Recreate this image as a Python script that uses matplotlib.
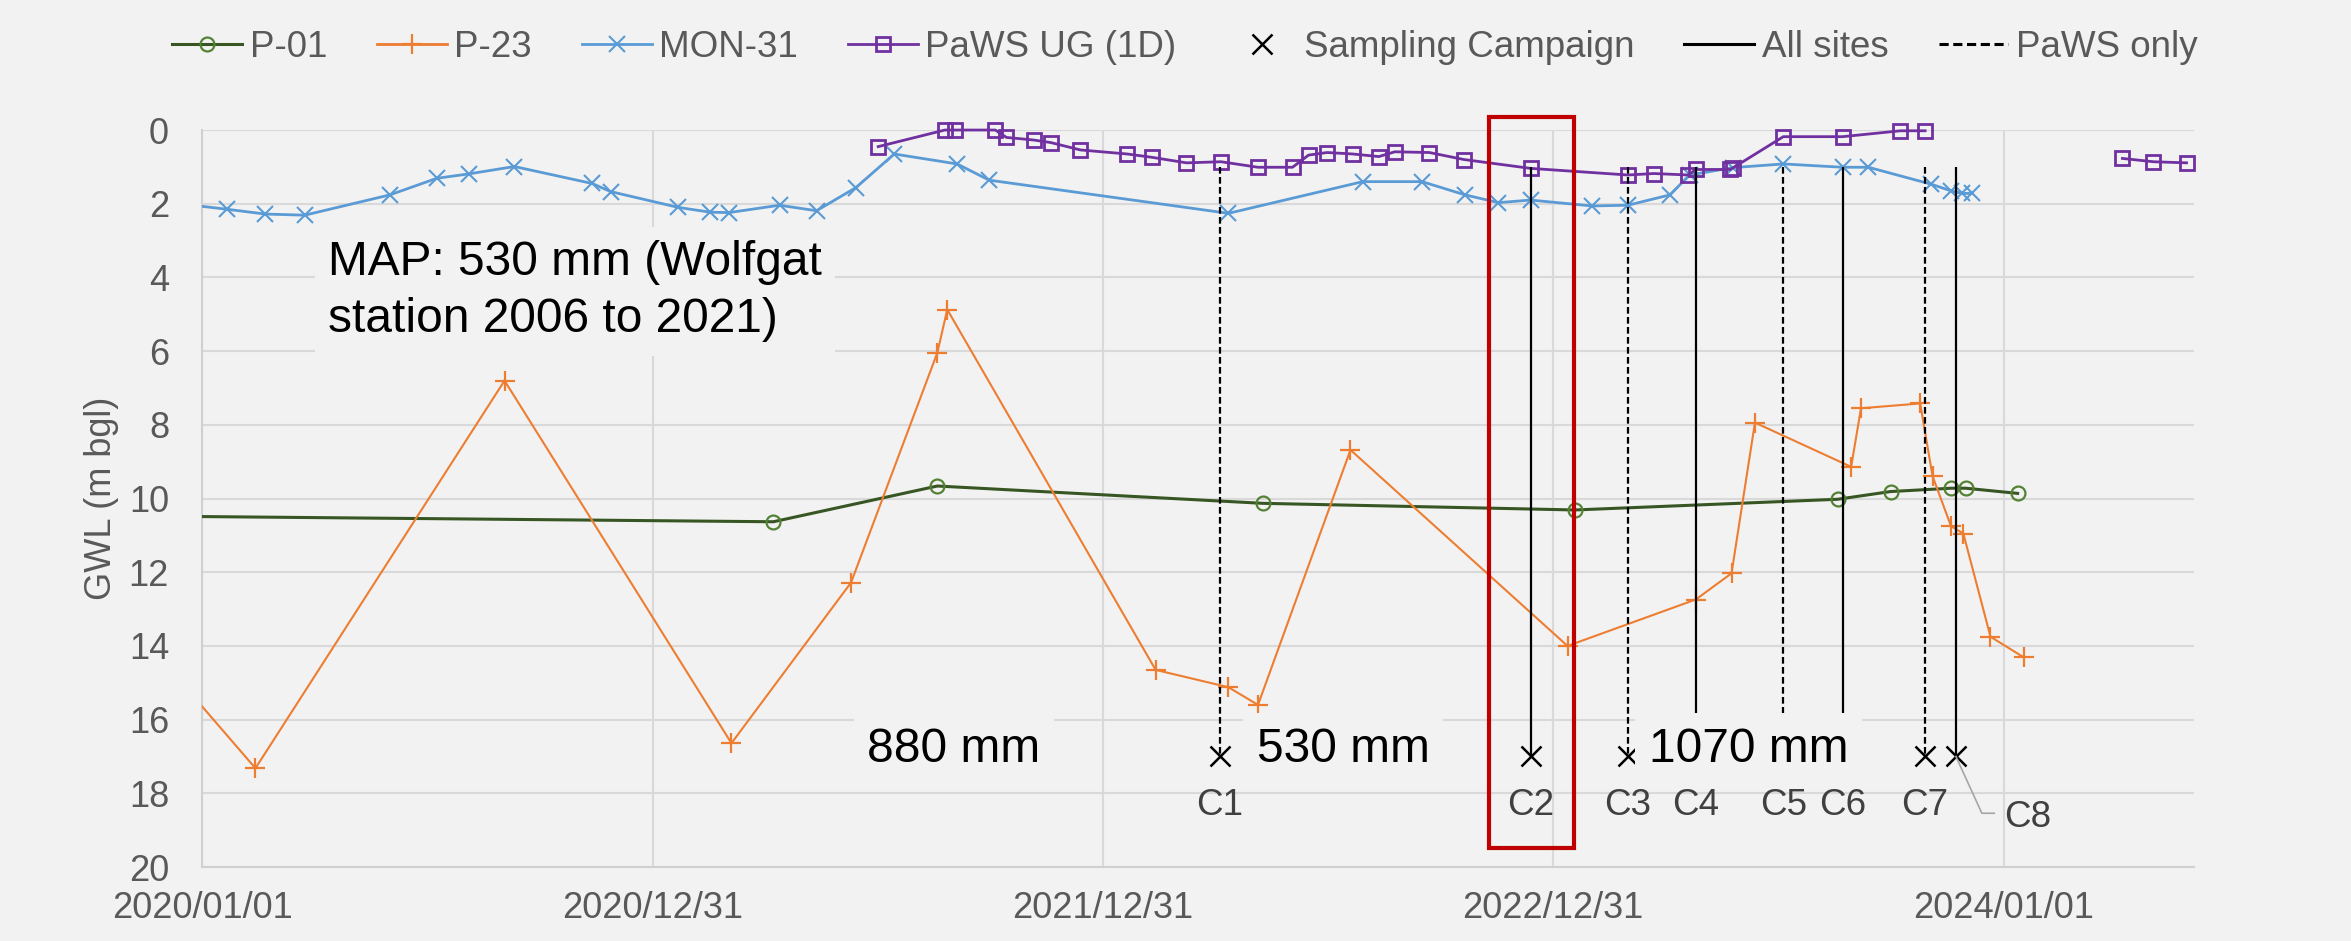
import numpy as np
import matplotlib
matplotlib.use('Agg')
import matplotlib.pyplot as plt
import matplotlib.dates as mdates
from matplotlib.lines import Line2D
from matplotlib.patches import Rectangle

plt.rcParams['font.family'] = ['Liberation Sans', 'DejaVu Sans']

# ---- data ----
p01_dates = np.array(['2019-12-01', '2021-04-08', '2021-08-19', '2022-05-10', '2023-01-18',
                      '2023-08-19', '2023-10-01', '2023-11-19', '2023-12-01', '2024-01-12'],
                     dtype='datetime64[D]')
p01_gwl = [10.48, 10.63, 9.66, 10.13, 10.31, 10.02, 9.81, 9.72, 9.72, 9.86]

p23_dates = np.array(['2019-12-01', '2020-02-13', '2020-09-02', '2021-03-05', '2021-06-10',
                      '2021-08-19', '2021-08-27', '2022-02-12', '2022-04-12', '2022-05-06',
                      '2022-07-20', '2023-01-12', '2023-04-26', '2023-05-25', '2023-06-13',
                      '2023-08-30', '2023-09-07', '2023-10-25', '2023-11-04', '2023-11-19',
                      '2023-11-29', '2023-12-21', '2024-01-17'], dtype='datetime64[D]')
p23_gwl = [14.45, 17.32, 6.80, 16.64, 12.28, 6.04, 4.87, 14.65, 15.12, 15.60,
           8.68, 14.00, 12.74, 12.03, 7.94, 9.14, 7.55, 7.42, 9.39, 10.75,
           10.95, 13.75, 14.31]

mon31_dates = np.array(['2019-12-01', '2020-01-21', '2020-02-21', '2020-03-24', '2020-06-01',
                        '2020-07-09', '2020-08-04', '2020-09-10', '2020-11-12', '2020-11-27',
                        '2021-01-21', '2021-02-16', '2021-03-03', '2021-04-13', '2021-05-13',
                        '2021-06-14', '2021-07-15', '2021-09-04', '2021-09-30', '2022-04-12',
                        '2022-07-30', '2022-09-16', '2022-10-21', '2022-11-17', '2022-12-13',
                        '2023-02-01', '2023-03-02', '2023-04-05', '2023-04-21', '2023-05-26',
                        '2023-07-06', '2023-08-23', '2023-09-13', '2023-11-03', '2023-11-19',
                        '2023-11-28', '2023-12-06'], dtype='datetime64[D]')
mon31_gwl = [1.95, 2.15, 2.28, 2.31, 1.76, 1.31, 1.19, 0.99, 1.45, 1.67,
             2.10, 2.23, 2.24, 2.04, 2.19, 1.56, 0.65, 0.92, 1.36, 2.26,
             1.40, 1.40, 1.76, 1.97, 1.90, 2.06, 2.04, 1.76, 1.22, 1.02,
             0.92, 1.01, 1.01, 1.47, 1.65, 1.72, 1.72]

paws_dates = np.array(['2021-07-02', '2021-08-25', '2021-09-02', '2021-10-05', '2021-10-14',
                       '2021-11-05', '2021-11-19', '2021-12-13', '2022-01-20', '2022-02-09',
                       '2022-03-09', '2022-04-06', '2022-05-06', '2022-06-03', '2022-06-16',
                       '2022-07-01', '2022-07-22', '2022-08-12', '2022-08-25', '2022-09-22',
                       '2022-10-20', '2022-12-13', '2023-03-02', '2023-03-23', '2023-04-20',
                       '2023-04-26', '2023-05-24', '2023-05-26', '2023-07-06', '2023-08-23',
                       '2023-10-09', '2023-10-29', '2024-01-01', '2024-04-06', '2024-05-01',
                       '2024-05-28'], dtype='datetime64[D]')
paws_gwl = [0.45, 0.00, 0.00, 0.00, 0.20, 0.27, 0.34, 0.54, 0.65, 0.74,
            0.89, 0.86, 1.01, 1.01, 0.68, 0.61, 0.65, 0.72, 0.59, 0.61,
            0.80, 1.04, 1.22, 1.18, 1.22, 1.07, 1.07, 1.03, 0.18, 0.18,
            0.02, 0.02, np.nan, 0.77, 0.86, 0.89]

camp_labels = ['C1', 'C2', 'C3', 'C4', 'C5', 'C6', 'C7', 'C8']
camp_dates = np.array(['2022-04-05', '2022-12-13', '2023-03-02', '2023-04-26',
                       '2023-07-06', '2023-08-23', '2023-10-29', '2023-11-23'],
                      dtype='datetime64[D]')
camp_all_sites = [False, True, False, True, False, True, False, True]
camp_top = 1.0
camp_bottom = 17.0

tick_dates = np.array(['2020-01-01', '2020-12-31', '2021-12-31', '2022-12-31', '2024-01-01'],
                      dtype='datetime64[D]')
tick_labels = ['2020/01/01', '2020/12/31', '2021/12/31', '2022/12/31', '2024/01/01']

# ---- figure ----
bg = '#f2f2f2'
grey_txt = '#595959'
c_p01_line, c_p01_mk = '#375623', '#548235'
c_p23 = '#ed7d31'
c_mon = '#5b9bd5'
c_paws = '#7030a0'
dash = (0, (3, 1.5))

fig = plt.figure(figsize=(23.51, 9.41), dpi=100, facecolor=bg)
ax = fig.add_axes([0.0861, 0.0786, 0.8471, 0.7832])
ax.set_facecolor(bg)

ax.plot(p01_dates, p01_gwl, color=c_p01_line, lw=2.2, marker='o', ms=10, mfc='none',
        mec=c_p01_mk, mew=1.6, zorder=3)
ax.plot(p23_dates, p23_gwl, color=c_p23, lw=1.5, marker='+', ms=14, mew=1.6, zorder=3)
ax.plot(mon31_dates, mon31_gwl, color=c_mon, lw=2, marker='x', ms=11, mew=1.5, zorder=3)
ax.plot(paws_dates, paws_gwl, color=c_paws, lw=2, marker='s', ms=10, mfc='none',
        mew=2, zorder=3, clip_on=False)

# sampling campaigns
for d, allsite in zip(camp_dates, camp_all_sites):
    ax.vlines(d, camp_top, camp_bottom, color='black', lw=1.6,
              linestyles='solid' if allsite else dash, zorder=4)
ax.plot(camp_dates, [camp_bottom] * len(camp_dates), ls='none', marker='x', ms=15,
        mew=1.8, color='black', zorder=4)
for lab, d in zip(camp_labels[:-1], camp_dates[:-1]):
    ax.text(d, 18.59, lab, ha='center', va='baseline', fontsize=26.5, color='#404040')
# C8 label with leader line
ax.plot([camp_dates[-1], np.datetime64('2023-12-14'), np.datetime64('2023-12-24')],
        [camp_bottom, 18.54, 18.54], color='#a6a6a6', lw=1.2, zorder=4)
ax.text(np.datetime64('2024-01-01'), 18.9, camp_labels[-1], ha='left', va='baseline',
        fontsize=26.5, color='#404040')

# rainfall annotations
box = dict(boxstyle='square,pad=0.28', fc=bg, ec='none')
ax.text(np.datetime64('2020-04-12'), 2.99, 'MAP: 530 mm (Wolfgat\nstation 2006 to 2021)',
        ha='left', va='top', fontsize=34.5, color='black', bbox=box, zorder=6,
        linespacing=1.35)
for d, s in [('2021-06-23', '880 mm'), ('2022-05-05', '530 mm'), ('2023-03-19', '1070 mm')]:
    ax.text(np.datetime64(d), 17.14, s, ha='left', va='baseline', fontsize=34.5,
            color='black', bbox=box, zorder=6)

# highlight box around C2
x0 = mdates.date2num(np.datetime64('2022-11-09'))
x1 = mdates.date2num(np.datetime64('2023-01-17'))
ax.add_patch(Rectangle((x0, -0.36), x1 - x0, 19.83, fill=False, ec='#c00000', lw=3,
                       zorder=7, clip_on=False))

# axes styling
ax.set_xlim(np.datetime64('2020-01-01'), np.datetime64('2024-06-03'))
ax.set_ylim(20, 0)
ax.set_yticks(range(0, 21, 2))
ax.set_xticks(tick_dates)
ax.set_xticklabels(tick_labels)
ax.tick_params(length=0, labelsize=26, labelcolor=grey_txt)
ax.tick_params(axis='y', pad=24)
ax.tick_params(axis='x', pad=17)
ax.grid(True, color='#d9d9d9', lw=1.5)
ax.set_axisbelow(True)
for side in ['top', 'right']:
    ax.spines[side].set_visible(False)
for side in ['left', 'bottom']:
    ax.spines[side].set_color('#d0d0d0')
    ax.spines[side].set_linewidth(1.5)
ax.set_ylabel('GWL (m bgl)', fontsize=26, color=grey_txt)
ax.yaxis.set_label_coords(-0.042, 0.5)

# legend
handles = [
    Line2D([], [], color=c_p01_line, lw=2.2, marker='o', ms=10, mfc='none', mec=c_p01_mk, mew=1.6),
    Line2D([], [], color=c_p23, lw=2, marker='+', ms=14, mew=1.6),
    Line2D([], [], color=c_mon, lw=2, marker='x', ms=11, mew=1.5),
    Line2D([], [], color=c_paws, lw=2, marker='s', ms=10, mfc='none', mew=2),
    Line2D([], [], ls='none', marker='x', ms=15, mew=1.8, color='black'),
    Line2D([], [], color='black', lw=2.2),
    Line2D([], [], color='black', lw=2.2, ls=dash),
]
labels = ['P-01', 'P-23', 'MON-31', 'PaWS UG (1D)', 'Sampling Campaign', 'All sites', 'PaWS only']
fig.legend(handles, labels, ncol=7, loc='center', bbox_to_anchor=(0.504, 0.95),
           frameon=False, fontsize=26.5, handlelength=1.9, handletextpad=0.2,
           columnspacing=1.36, labelcolor=grey_txt)

fig.savefig('out.png', dpi=100, facecolor=bg)
